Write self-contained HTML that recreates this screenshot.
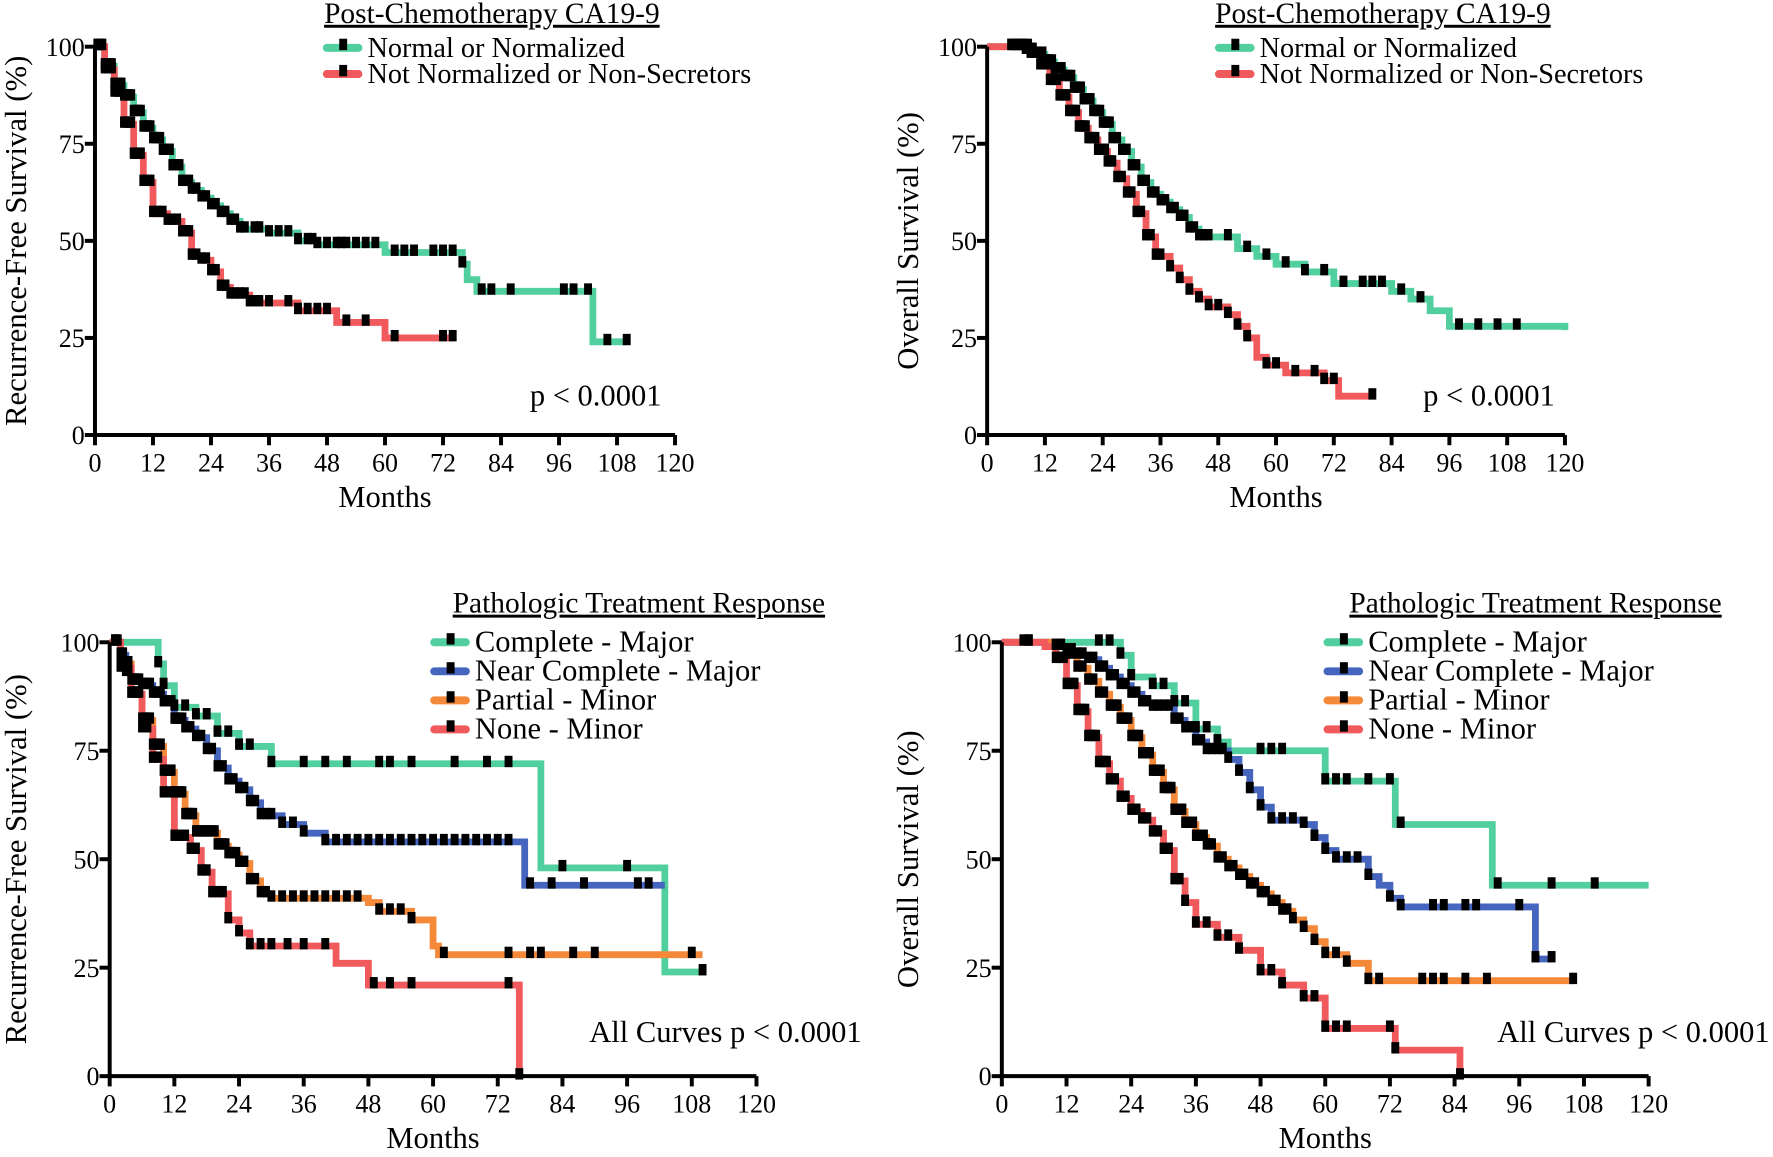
<!DOCTYPE html>
<html><head><meta charset="utf-8"><style>
html,body{margin:0;padding:0;background:#fff;}
svg{display:block;}
text{font-family:"Liberation Serif","DejaVu Serif",serif;fill:#000;}
</style></head><body>
<svg id="fig" width="1773" height="1157" viewBox="0 0 1568 1016" preserveAspectRatio="none" font-family="Liberation Serif, DejaVu Serif, serif" xmlns="http://www.w3.org/2000/svg"></svg>
<script>
const xTicks=[0,12,24,36,48,60,72,84,96,108,120];
const yTicks=[0,25,50,75,100];
// Panel A: RFS by CA19-9
const aGreenT=[0,2,4,6,8,10,12,14,16,18,20,22,24,26,28,30,36,42,46,60,76,77,79,103,110];
const aGreenS=[100,95,90,87,83,79,76,73,69,65,63,61,59,57,55,53,52,50,49,47,44,40,37,24,24];
const aGreenC=[0.5,1,1.5,2,2.5,3,3.5,4,4.5,5,5.5,6,6.5,7,7.5,8,8.5,9,9.5,10,10.5,11,11.5,12,12.5,13,13.5,14,14.5,15,15.5,16,16.5,17,17.5,18,18.5,19,19.5,20,21,22,23,24,25,26,27,28,29,30,31,33,34,36,38,40,42,44,45,46,48,50,51,52,54,56,58,62,64,66,70,72,74,76,80,82,86,97,99,102,106,110];
const aRedT=[0,2,4,6,8,10,12,15,18,20,22,24,26,28,32,42,50,60,74];
const aRedS=[100,94,88,80,72,65,57,55,52,46,45,42,38,36,34,32,29,25,25];
const aRedC=[0.5,1,1.5,2,2.5,3,3.5,4,4.5,5,5.5,6,6.5,7,7.5,8,8.5,9,9.5,10,10.5,11,11.5,12,13,14,15,16,17,18,18.5,19,19.5,20,21,22,23,24,25,26,27,28,29,30,31,32,33,34,36,40,42,44,46,48,52,56,62,72,74];
// Panel B: OS by CA19-9
const bGreenT=[0,6,8,10,12,14,16,18,20,22,24,26,28,30,32,34,36,38,40,42,44,48,52,56,60,66,72,84,88,92,96,120];
const bGreenS=[100,100,99,98,96,94,92,89,86,83,80,76,73,69,65,62,60,58,56,53,51,51,48,46,44,42,39,37,35,32,28,27];
const bGreenC=[5,5.5,6,6.5,7,7.5,8,8.5,9,9.5,10,10.5,11,11.5,12,12.5,13,13.5,14,14.5,15,15.5,16,16.5,17,17.5,18,18.5,19,19.5,20,20.5,21,21.5,22,22.5,23,23.5,24,24.5,25,25.5,26,27,28,29,30,31,32,33,34,35,36,37,38,39,40,41,42,43,44,45,46,50,54,58,62,66,70,74,78,80,82,86,90,98,102,106,110];
const bRedT=[0,7,9,11,13,15,17,19,21,23,25,27,29,31,33,35,38,40,42,44,46,50,52,54,56,58,62,70,73,80];
const bRedS=[100,100,98,95,91,87,83,79,76,73,70,66,62,57,51,46,43,40,37,35,33,31,28,25,20,18,16,14,10,10];
const bRedC=[5,6,7,8,8.5,9,9.5,10,10.5,11,11.5,12,12.5,13,13.5,14,14.5,15,15.5,16,16.5,17,17.5,18,18.5,19,19.5,20,20.5,21,21.5,22,22.5,23,23.5,24,24.5,25,25.5,26,27,28,29,30,31,32,33,34,35,36,38,40,42,44,46,48,50,52,54,58,60,64,68,70,72,80];
// Panel C: RFS by pathologic response
const cGreenT=[0,8,9,10,12,16,20,24,30,80,103,110];
const cGreenS=[100,100,95,90,85,83,79,76,72,48,24,24];
const cGreenC=[9,10,12,14,16,18,20,22,24,26,30,36,40,44,50,52,56,64,70,74,84,96,110];
const cBlueT=[0,2,3,4,6,8,10,12,14,16,18,20,22,24,26,28,32,36,40,77,103];
const cBlueS=[100,97,93,91,90,88,86,82,80,78,75,71,68,66,63,60,58,56,54,44,44];
const cBlueC=[2,2.5,3,3.5,4,4.5,5,5.5,6,6.5,7,7.5,8,8.5,9,9.5,10,10.5,11,11.5,12,12.5,13,13.5,14,15,16,17,18,19,20,21,22,23,24,25,26,27,28,29,30,32,34,36,40,42,44,46,48,50,52,54,56,58,60,62,64,66,68,70,72,74,78,82,88,98,100];
const cOrangeT=[0,2,4,6,8,10,12,14,16,20,22,24,26,28,30,48,50,56,60,61,110];
const cOrangeS=[100,95,88,82,76,70,65,60,56,53,51,49,45,42,41,40,38,36,30,28,28];
const cOrangeC=[1,1.5,2,2.5,3,3.5,4,4.5,5,5.5,6,6.5,7,7.5,8,8.5,9,9.5,10,10.5,11,11.5,12,12.5,13,13.5,14,14.5,15,15.5,16,16.5,17,17.5,18,18.5,19,19.5,20,20.5,21,21.5,22,22.5,23,23.5,24,25,26,27,28,29,30,32,34,36,38,40,42,44,46,50,52,54,56,62,74,78,80,86,90,108];
const cRedT=[0,2,4,6,8,10,12,15,17,19,22,24,26,42,48,76];
const cRedS=[100,94,88,80,73,65,55,52,47,42,36,33,30,26,21,0];
const cRedC=[1,2,3,4,5,6,7,8,9,10,11,12,13,14,15,16,17,18,19,20,21,22,24,26,28,30,33,36,40,49,52,56,74,76];
// Panel D: OS by pathologic response
const dGreenT=[0,20,22,24,28,32,36,40,42,58,60,72,73,90,91,120];
const dGreenS=[100,100,97,92,90,86,80,77,75,75,68,68,58,58,44,44];
const dGreenC=[5,18,20,22,24,28,30,32,34,36,38,40,48,50,52,60,62,64,68,72,74,92,102,110];
const dBlueT=[0,8,10,12,14,16,18,20,22,24,26,28,32,34,36,38,42,44,46,48,50,56,58,60,62,68,70,72,74,84,98,99,102];
const dBlueS=[100,100,99,98,97,96,94,92,90,88,86,85,82,80,77,75,73,70,66,62,59,58,55,52,50,46,44,41,39,39,39,27,27];
const dBlueC=[4,5,10,11,12,13,14,15,16,17,18,19,20,21,22,23,24,25,26,27,28,29,30,31,32,33,34,35,36,37,38,39,40,41,42,44,46,48,50,52,54,56,58,60,62,64,66,68,72,74,80,82,86,88,96,99,102];
const dOrangeT=[0,8,10,12,14,16,18,20,22,24,26,28,30,32,34,36,38,40,42,44,46,48,50,52,54,56,58,60,64,68,106];
const dOrangeS=[100,100,99,97,94,91,88,85,82,78,74,70,66,61,58,55,53,50,48,46,44,42,40,38,36,34,31,28,26,22,22];
const dOrangeC=[10,11,12,13,14,15,16,17,18,19,20,20.5,21,21.5,22,22.5,23,23.5,24,24.5,25,25.5,26,26.5,27,27.5,28,28.5,29,29.5,30,30.5,31,31.5,32,32.5,33,33.5,34,34.5,35,35.5,36,36.5,37,37.5,38,38.5,39,40,41,42,43,44,45,46,47,48,49,50,51,52,53,54,56,58,60,62,64,68,70,78,80,82,86,90,106];
const dRedT=[0,8,10,12,14,16,18,20,22,24,26,28,30,32,34,36,40,44,48,52,56,60,72,73,84,85];
const dRedS=[100,99,96,90,84,78,72,68,64,61,59,56,52,45,40,35,32,29,24,21,18,11,11,6,6,0];
const dRedC=[10,10.5,11,11.5,12,12.5,13,13.5,14,14.5,15,15.5,16,16.5,17,17.5,18,18.5,19,19.5,20,21,22,23,24,25,26,27,28,29,30,31,32,33,34,36,38,40,42,44,48,50,52,56,58,60,62,64,72,73,85];

const GREEN="#52cf9e",RED="#f05a5c",BLUE="#4565be",ORANGE="#f5893a";
const NS="http://www.w3.org/2000/svg";
const FONT='"Liberation Serif","DejaVu Serif",serif';
const svg=document.getElementById('fig');
function el(tag,attrs,parent){const e=document.createElementNS(NS,tag);for(const k in attrs)e.setAttribute(k,attrs[k]);(parent||svg).appendChild(e);return e;}
function txt(s,x,y,size,anchor,parent){const t=el('text',{x:x,y:y,'font-size':size,'text-anchor':anchor||'start'},parent);t.style.fontFamily=FONT;t.textContent=s;return t;}

function panel(cfg){
  const g=el('g',{});
  
  
  const X=v=>cfg.x0+(cfg.x1-cfg.x0)*v/120;
  const Y=v=>cfg.y0+(cfg.y100-cfg.y0)*v/100;
  cfg.series.forEach(s=>{
    let d='M'+X(s.t[0])+' '+Y(s.s[0]);
    for(let i=1;i<s.t.length;i++){d+=' H'+X(s.t[i])+' V'+Y(s.s[i]);}
    const p=el('path',{d:d,fill:'none',stroke:s.color,'stroke-width':6},g);
    
    
  });
  cfg.series.forEach(s=>{
    s.c.forEach(ct=>{
      let v=s.s[0];
      for(let i=0;i<s.t.length;i++){if(s.t[i]<=ct)v=s.s[i];}
      const r=el('rect',{x:X(ct)-3.5,y:Y(v)-7,width:7,height:10,fill:'#000'},g);
      
      
    });
  });
  const ax=el('path',{d:'M'+cfg.x0+' '+cfg.y100+' V'+cfg.y0+' H'+cfg.x1,fill:'none',stroke:'#000','stroke-width':3.5},g);
  
  
  xTicks.forEach(v=>{
    const l=el('line',{x1:X(v),x2:X(v),y1:cfg.y0,y2:cfg.y0+9,stroke:'#000','stroke-width':3.5},g);
    
    
    const t=txt(String(v),X(v),cfg.y0+32,23,'middle',g);
    
    
  });
  yTicks.forEach(v=>{
    const l=el('line',{x1:cfg.x0-9,x2:cfg.x0,y1:Y(v),y2:Y(v),stroke:'#000','stroke-width':3.5},g);
    
    
    const t=txt(String(v),cfg.x0-9,Y(v)+8,23,'end',g);
    
    
  });
  const xt=txt('Months',(cfg.x0+cfg.x1)/2,cfg.y0+63,27,'middle',g);
  
  
  const yc=(cfg.y0+cfg.y100)/2;
  const yt=txt(cfg.ylabel,0,0,27,'middle',g);
  yt.setAttribute('transform','translate('+cfg.ylx+','+yc+') rotate(-90)');
  
  
  const tt=txt(cfg.title,cfg.tx,cfg.ty,26,'middle',g);
  tt.setAttribute('text-decoration','underline');
  
  
  cfg.series.forEach((s,i)=>{
    const y=cfg.ly+i*cfg.lstep;
    const lg=el('g',{},g);
    
    
    el('line',{x1:cfg.lx,x2:cfg.lx+28,y1:y,y2:y,stroke:s.color,'stroke-width':7,'stroke-linecap':'round'},lg);
    el('rect',{x:cfg.lx+11,y:y-8,width:7,height:10,fill:'#000'},lg);
    txt(s.label,cfg.lx+36,y+8,cfg.lfs,'start',lg);
  });
  const pt=txt(cfg.ptext,cfg.px,cfg.py,27,'end',g);
  
  
}

panel({name:'panel-rfs-ca199',x0:84,x1:597,y0:382,y100:41,ylabel:'Recurrence-Free Survival (%)',ylx:23,
  title:'Post-Chemotherapy CA19-9',tx:435,ty:20,lx:289,ly:42,lstep:23,lfs:25,ptext:'p < 0.0001',px:585,py:356,
  series:[{name:'normal',label:'Normal or Normalized',color:GREEN,t:aGreenT,s:aGreenS,c:aGreenC},
          {name:'not-normalized',label:'Not Normalized or Non-Secretors',color:RED,t:aRedT,s:aRedS,c:aRedC}]});
panel({name:'panel-os-ca199',x0:873,x1:1384,y0:382,y100:41,ylabel:'Overall Survival (%)',ylx:812,
  title:'Post-Chemotherapy CA19-9',tx:1223,ty:20,lx:1078,ly:42,lstep:23,lfs:25,ptext:'p < 0.0001',px:1375,py:356,
  series:[{name:'normal',label:'Normal or Normalized',color:GREEN,t:bGreenT,s:bGreenS,c:bGreenC},
          {name:'not-normalized',label:'Not Normalized or Non-Secretors',color:RED,t:bRedT,s:bRedS,c:bRedC}]});
panel({name:'panel-rfs-response',x0:97,x1:669,y0:945,y100:564,ylabel:'Recurrence-Free Survival (%)',ylx:23,
  title:'Pathologic Treatment Response',tx:565,ty:538,lx:384,ly:564,lstep:25.5,lfs:27,ptext:'All Curves p < 0.0001',px:762,py:915,
  series:[{name:'complete-major',label:'Complete - Major',color:GREEN,t:cGreenT,s:cGreenS,c:cGreenC},
          {name:'near-complete-major',label:'Near Complete - Major',color:BLUE,t:cBlueT,s:cBlueS,c:cBlueC},
          {name:'partial-minor',label:'Partial - Minor',color:ORANGE,t:cOrangeT,s:cOrangeS,c:cOrangeC},
          {name:'none-minor',label:'None - Minor',color:RED,t:cRedT,s:cRedS,c:cRedC}]});
panel({name:'panel-os-response',x0:886,x1:1458,y0:945,y100:564,ylabel:'Overall Survival (%)',ylx:812,
  title:'Pathologic Treatment Response',tx:1358,ty:538,lx:1174,ly:564,lstep:25.5,lfs:27,ptext:'All Curves p < 0.0001',px:1565,py:915,
  series:[{name:'complete-major',label:'Complete - Major',color:GREEN,t:dGreenT,s:dGreenS,c:dGreenC},
          {name:'near-complete-major',label:'Near Complete - Major',color:BLUE,t:dBlueT,s:dBlueS,c:dBlueC},
          {name:'partial-minor',label:'Partial - Minor',color:ORANGE,t:dOrangeT,s:dOrangeS,c:dOrangeC},
          {name:'none-minor',label:'None - Minor',color:RED,t:dRedT,s:dRedS,c:dRedC}]});
</script>
</body></html>
